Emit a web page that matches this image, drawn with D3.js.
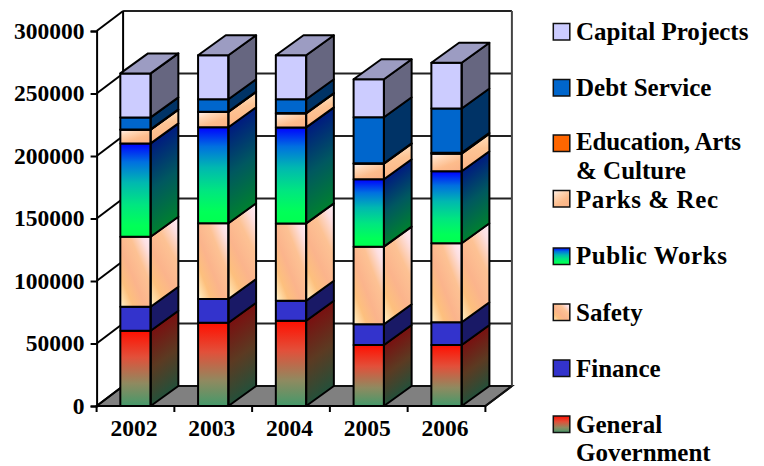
<!DOCTYPE html>
<html><head><meta charset="utf-8">
<script src="https://cdn.jsdelivr.net/npm/d3@7/dist/d3.min.js"></script>
<style>html,body{margin:0;padding:0;background:#fff}svg{display:block}
text{font-family:"Liberation Serif",serif;font-weight:bold;fill:#000}</style>
</head><body><svg id="c" width="764" height="466"></svg>
<script>
const years=["2002","2003","2004","2005","2006"];
const generalGovernment=[60200,66600,68200,48800,48800];
const finance=[19200,19000,16000,16600,18200];
const safety=[56000,60600,61900,62100,63200];
const publicWorks=[74700,76800,76800,53900,57600];
const parksRec=[10900,12200,11200,12500,14000];
const educationArts=[300,300,300,300,800];
const debtService=[9600,9900,11000,36800,35400];
const capitalProjects=[35200,35200,35200,30400,36600];
const yTicks=[0,50000,100000,150000,200000,250000,300000];
const seriesKeys=["General Government","Finance","Safety","Public Works","Parks & Rec","Education, Arts & Culture","Debt Service","Capital Projects"];
const seriesValues=[generalGovernment,finance,safety,publicWorks,parksRec,educationArts,debtService,capitalProjects];
const legendOrder=[
 {k:"Capital Projects",lines:["Capital Projects"]},
 {k:"Debt Service",lines:["Debt Service"]},
 {k:"Education, Arts & Culture",lines:["Education, Arts","& Culture"]},
 {k:"Parks & Rec",lines:["Parks & Rec"]},
 {k:"Public Works",lines:["Public Works"]},
 {k:"Safety",lines:["Safety"]},
 {k:"Finance",lines:["Finance"]},
 {k:"General Government",lines:["General","Government"]}];

const svg=d3.select("#c"),defs=svg.append("defs");
const x0=96.6,x1=485.4,yB=406,yT=31,wallDx=26.5,wallDy=-20,barDx=27.7,barDy=-20,sw=2;
const x=d3.scaleBand().domain(years).range([x0,x1]).paddingInner(.61).paddingOuter(.305);
const y=d3.scaleLinear().domain([0,300000]).range([yB,yT]);

function grad(id,stops,dir){
  const g=defs.append("linearGradient").attr("id",id)
    .attr("x1",dir[0]).attr("y1",dir[1]).attr("x2",dir[2]).attr("y2",dir[3]);
  stops.forEach(s=>g.append("stop").attr("offset",s[0]).attr("stop-color",s[1]));
  return `url(#${id})`;
}
const V=[0,0,0,1],D=[1,0,0,1],P=[0,0,.7,1];
const safetyStops=[[0,"#ffeef8"],[.14,"#fde0e2"],[.34,"#fdc294"],[.58,"#fbb48c"],[.78,"#fdc07e"],[.93,"#ffe2b0"],[1,"#fff4e0"]];
const styles={
 "General Government":{f:grad("g1",[[0,"#ff0f00"],[.35,"#e2503a"],[.7,"#8f8a60"],[1,"#44996a"]],V),
    s:grad("g1s",[[0,"#7a1010"],[.5,"#5c3a22"],[1,"#24503a"]],V)},
 "Finance":{f:"#3333cc",s:"#191966"},
 "Safety":{f:grad("g3",safetyStops,D),s:grad("g3s",safetyStops,D)},
 "Public Works":{f:grad("g4",[[0,"#0000ff"],[.2,"#0070e0"],[.42,"#00b8b0"],[.66,"#00e680"],[.88,"#00ff58"],[1,"#00ff50"]],V),
    s:grad("g4s",[[0,"#001a80"],[.5,"#005860"],[1,"#008030"]],V)},
 "Parks & Rec":{f:grad("g5",[[0,"#fff4f4"],[.3,"#ffd8b8"],[.7,"#fdbc8c"],[1,"#fbb488"]],P),
    s:grad("g5s",[[0,"#fdb484"],[.6,"#fdc494"],[1,"#ffe0c0"]],[0,1,1,0])},
 "Education, Arts & Culture":{f:"#ff6600",s:"#803300"},
 "Debt Service":{f:"#0066cc",s:"#003366"},
 "Capital Projects":{f:"#ccccff",s:"#666680"}
};

// walls and floor
const wall=svg.append("g");
wall.append("rect").attr("x",x0+wallDx).attr("y",y(300000)+wallDy)
  .attr("width",x1-x0).attr("height",yB-yT).attr("fill","#fff");
const floor=[[x0,yB],[x0+wallDx,yB+wallDy],[x1+wallDx,yB+wallDy],[x1,yB]];
wall.append("path").attr("d",d3.line()(floor)+"Z").attr("fill","#808080").attr("stroke","#111").attr("stroke-width",sw);
wall.selectAll("line.grid").data(yTicks.slice(1)).join("line").attr("class","grid")
  .attr("x1",x0+wallDx).attr("x2",x1+wallDx).attr("y1",d=>y(d)+wallDy).attr("y2",d=>y(d)+wallDy)
  .attr("stroke","#222").attr("stroke-width",sw);
wall.selectAll("line.side").data(yTicks).join("line").attr("class","side")
  .attr("x1",x0).attr("x2",x0+wallDx).attr("y1",d=>y(d)).attr("y2",d=>y(d)+wallDy)
  .attr("stroke","#000").attr("stroke-width",sw);
wall.append("line").attr("x1",x0+wallDx).attr("x2",x0+wallDx).attr("y1",y(300000)+wallDy).attr("y2",yB+wallDy)
  .attr("stroke","#000").attr("stroke-width",sw);
wall.append("line").attr("x1",x1+wallDx).attr("x2",x1+wallDx).attr("y1",y(300000)+wallDy).attr("y2",yB+wallDy)
  .attr("stroke","#444").attr("stroke-width",sw);
wall.append("line").attr("x1",x1).attr("x2",x1+wallDx).attr("y1",yB).attr("y2",yB+wallDy)
  .attr("stroke","#111").attr("stroke-width",sw);

// stacked bars
const table=years.map((yr,i)=>{const o={year:yr};seriesKeys.forEach((k,j)=>o[k]=seriesValues[j][i]);return o;});
const stacked=d3.stack().keys(seriesKeys)(table);
const bars=svg.append("g").attr("stroke-linejoin","round");
const shear=barDy/barDx;
stacked.forEach(layer=>{
  const st=styles[layer.key];
  layer.forEach(d=>{
    const xl=x(d.data.year),w=x.bandwidth(),xr=xl+w,t=y(d[1]),b=y(d[0]);
    bars.append("rect").attr("x",xl).attr("y",t).attr("width",w).attr("height",b-t).attr("fill",st.f);
    bars.append("rect").attr("x",0).attr("y",0).attr("width",barDx).attr("height",b-t)
      .attr("transform",`matrix(1,${shear},0,1,${xr},${t})`).attr("fill",st.s);
    const outline=d3.line();
    bars.append("path").attr("d",outline([[xl,t],[xr,t],[xr,b],[xl,b]])+"Z").attr("fill","none").attr("stroke","#000").attr("stroke-width",sw);
    bars.append("path").attr("d",outline([[xr,t],[xr+barDx,t+barDy],[xr+barDx,b+barDy],[xr,b]])+"Z").attr("fill","none").attr("stroke","#000").attr("stroke-width",sw);
  });
});
stacked[stacked.length-1].forEach(d=>{
  const xl=x(d.data.year),xr=xl+x.bandwidth(),t=y(d[1]);
  bars.append("path").attr("d",d3.line()([[xl,t],[xr,t],[xr+barDx,t+barDy],[xl+barDx,t+barDy]])+"Z")
    .attr("fill","#9c9cc2").attr("stroke","#000").attr("stroke-width",sw);
});

// axes
const ax=svg.append("g").attr("transform",`translate(${x0},0)`)
  .call(d3.axisLeft(y).tickValues(yTicks).tickFormat(d3.format("d")).tickSize(6).tickPadding(6));
ax.selectAll("text").attr("font-size",23.5).attr("dy",".3em");
const bx=svg.append("g").attr("transform",`translate(-1.5,${yB})`)
  .call(d3.axisBottom(x).tickSize(0).tickPadding(21));
bx.selectAll("text").attr("font-size",23.5).attr("dy",".4em");
bx.select(".domain").remove();
const stepTicks=d3.range(years.length+1).map(i=>x0+i*x.step());
svg.append("g").selectAll("line").data(stepTicks).join("line")
  .attr("x1",d=>d).attr("x2",d=>d).attr("y1",yB).attr("y2",yB+6);
svg.append("line").attr("x1",x0).attr("x2",x1).attr("y1",yB).attr("y2",yB);
svg.selectAll("line").filter(function(){return !this.getAttribute("stroke")}).attr("stroke","#000").attr("stroke-width",sw);
ax.selectAll("line,path").attr("stroke","#000").attr("stroke-width",sw);

// legend
const swatchY=[23.5,79.5,135,190.5,248,304,360,416];
const lineY=[[40],[95.7],[150,179.4],[207.5],[264],[320.7],[376.7],[432.7,460.5]];
const lineW={"Education, Arts":165,"Parks & Rec":142,"Public Works":151};
const lg=svg.append("g");
legendOrder.forEach((e,i)=>{
  lg.append("rect").attr("x",553.3).attr("y",swatchY[i]).attr("width",16.5).attr("height",16.5)
    .attr("fill",styles[e.k].f).attr("stroke","#111").attr("stroke-width",1.5);
  e.lines.forEach((t,j)=>{
    const n=lg.append("text").attr("x",576).attr("y",lineY[i][j]).attr("font-size",25).text(t);
    if(lineW[t]) n.attr("textLength",lineW[t]);
  });
});
</script></body></html>
